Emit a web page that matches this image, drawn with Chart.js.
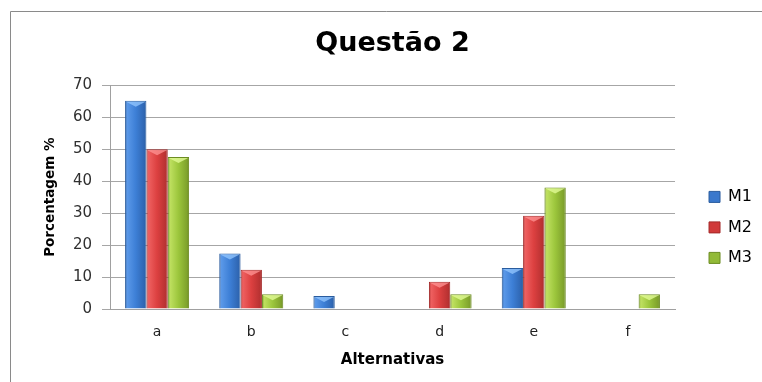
<!DOCTYPE html>
<html><head><meta charset="utf-8">
<script src="https://cdn.jsdelivr.net/npm/chart.js@4"></script>
<style>
html,body{margin:0;padding:0;background:#fff;overflow:hidden}
</style></head>
<body>
<canvas id="c" width="762" height="382" style="display:block"></canvas>
<script>
const chartTitle = 'Questão 2';
const xTitle = 'Alternativas';
const yTitle = 'Porcentagem %';
const categories = ['a', 'b', 'c', 'd', 'e', 'f'];
const seriesNames = ['M1', 'M2', 'M3'];
const m1 = [65.2, 17.4, 4.1, 0, 12.8, 0];
const m2 = [50, 12.3, 0, 8.5, 29.2, 0];
const m3 = [47.6, 4.6, 0, 4.6, 38.0, 4.6];
const yTicks = [0, 10, 20, 30, 40, 50, 60, 70];

const palette = [
  {edge: '#2a5c9e', light: '#5a98e8', mid: '#3d7fd6', dark: '#2f66b2', solid: '#3a78cc', bevel: 'rgba(150,200,255,0.75)'},
  {edge: '#a42a2a', light: '#ee6060', mid: '#dc4040', dark: '#b83232', solid: '#d03a3a', bevel: 'rgba(255,150,150,0.75)'},
  {edge: '#6c8c22', light: '#bfe060', mid: '#9cc63c', dark: '#7fa22c', solid: '#92ba38', bevel: 'rgba(225,250,150,0.8)'}
];
const CAT_PCT = 0.68;

function barFill(ctx) {
  const p = palette[ctx.datasetIndex];
  const chart = ctx.chart;
  const xs = chart.scales && chart.scales.x;
  if (!xs || ctx.type !== 'data' || !isFinite(xs.left)) return p.solid;
  const cw = (xs.right - xs.left) / categories.length;
  const bw = cw * CAT_PCT / seriesNames.length;
  const cx = xs.getPixelForValue(ctx.dataIndex);
  const x0 = cx - bw * seriesNames.length / 2 + ctx.datasetIndex * bw;
  const g = chart.ctx.createLinearGradient(x0, 0, x0 + bw, 0);
  g.addColorStop(0, p.edge);
  g.addColorStop(0.1, p.light);
  g.addColorStop(0.5, p.mid);
  g.addColorStop(0.9, p.dark);
  g.addColorStop(1, p.edge);
  return g;
}

const framePlugin = {
  id: 'frame',
  beforeDraw(chart) {
    const c = chart.ctx;
    c.save();
    c.strokeStyle = '#8a8a8a';
    c.lineWidth = 1;
    c.beginPath();
    c.moveTo(10.5, chart.height);
    c.lineTo(10.5, 11.5);
    c.lineTo(chart.width, 11.5);
    c.stroke();
    c.restore();
  }
};

const bevelPlugin = {
  id: 'bevel',
  afterDatasetsDraw(chart) {
    const c = chart.ctx;
    chart.data.datasets.forEach((ds, di) => {
      const meta = chart.getDatasetMeta(di);
      meta.data.forEach((bar) => {
        const p = bar.getProps(['x', 'y', 'base', 'width'], true);
        const h = p.base - p.y;
        if (h < 2) return;
        const l = p.x - p.width / 2 + 1, r = p.x + p.width / 2 - 1;
        const d = Math.min(5, h - 1);
        c.save();
        c.fillStyle = palette[di].bevel;
        c.beginPath();
        c.moveTo(l, p.y + 1);
        c.lineTo(r, p.y + 1);
        c.lineTo(p.x, p.y + 1 + d);
        c.closePath();
        c.fill();
        c.restore();
      });
    });
  }
};

const seriesValues = [m1, m2, m3];
const datasets = seriesNames.map((name, i) => ({
  label: name,
  data: seriesValues[i],
  backgroundColor: barFill,
  borderColor: palette[i].edge,
  borderWidth: {top: 1, left: 1, right: 1, bottom: 0},
  categoryPercentage: CAT_PCT,
  barPercentage: 1.0,
  yAxisID: 'y'
}));

new Chart(document.getElementById('c'), {
  type: 'bar',
  data: {labels: categories, datasets},
  plugins: [framePlugin, bevelPlugin],
  options: {
    responsive: false,
    animation: false,
    devicePixelRatio: 1,
    layout: {padding: {left: 10, right: 0, top: 0, bottom: 0}},
    plugins: {
      tooltip: {enabled: false},
      title: {
        display: true,
        text: chartTitle,
        fullSize: false,
        color: '#000',
        font: {family: 'DejaVu Sans', size: 27, weight: 'bold'},
        padding: {top: 28, bottom: 25}
      },
      legend: {
        position: 'right',
        align: 'center',
        title: {display: true, text: '', font: {size: 14}, padding: {top: 56, bottom: 0}},
        labels: {
          boxWidth: 11,
          boxHeight: 11,
          padding: 14.5,
          color: '#000',
          font: {family: 'DejaVu Sans', size: 16},
          generateLabels: () => seriesNames.map((n, i) => ({
            text: n, fillStyle: palette[i].solid, strokeStyle: palette[i].edge,
            lineWidth: 1, hidden: false, datasetIndex: i, fontColor: '#000'
          }))
        }
      }
    },
    scales: {
      x: {
        grid: {display: false, drawTicks: false},
        border: {display: true, color: '#a0a0a0', width: 1},
        ticks: {padding: 15, color: '#202020', font: {family: 'DejaVu Sans', size: 14}},
        title: {display: true, text: xTitle, color: '#000',
          font: {family: 'DejaVu Sans', size: 15, weight: 'bold'}, padding: {top: 0, bottom: 13}},
        afterFit(s) { s.height = 73; }
      },
      y: {
        min: 0, max: 70,
        afterBuildTicks(s) { s.ticks = yTicks.map(v => ({value: v})); },
        grid: {color: '#a6a6a6', tickLength: 8, lineWidth: 1},
        border: {display: true, color: '#a0a0a0', width: 1},
        ticks: {padding: 10, color: '#303030', font: {family: 'DejaVu Sans', size: 15}},
        title: {display: true, text: yTitle, color: '#000',
          font: {family: 'DejaVu Sans', size: 13.5, weight: 'bold'}, padding: {top: 32, bottom: 0}},
        afterFit(s) { s.width = 100; }
      },
      yR: {
        type: 'linear',
        position: 'right',
        display: true,
        grid: {display: false, drawTicks: false},
        border: {display: false},
        ticks: {display: false},
        afterFit(s) { s.width = 19.5; }
      }
    }
  }
});
</script>
</body></html>
